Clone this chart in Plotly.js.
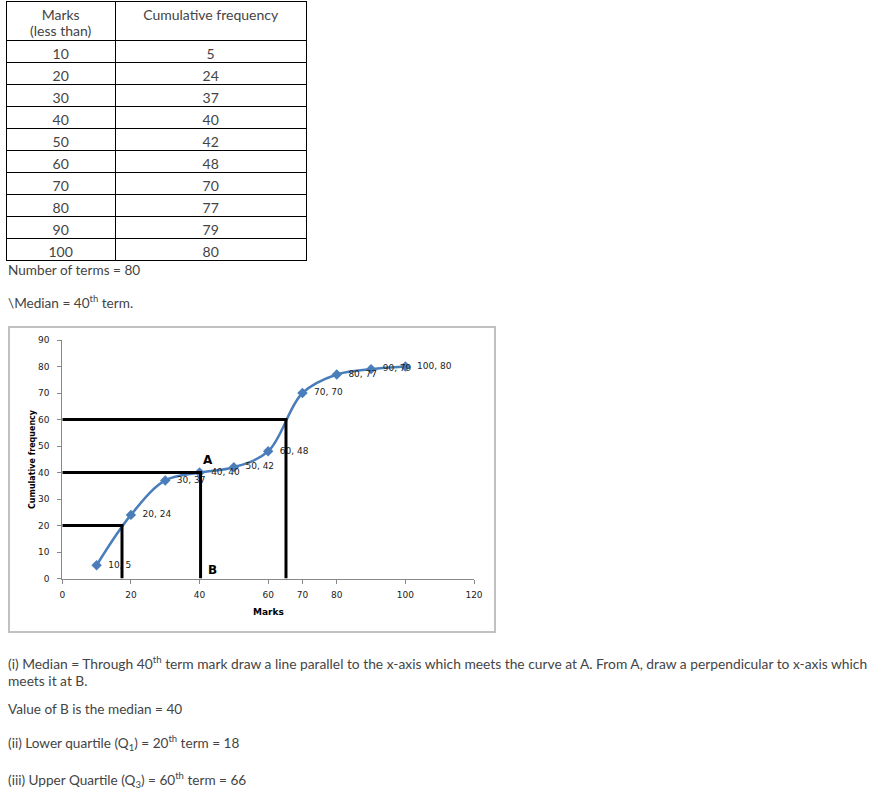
<!DOCTYPE html>
<html>
<head>
<meta charset="utf-8">
<script src="https://cdn.plot.ly/plotly-3.0.1.min.js"></script>
<style>
html,body{margin:0;padding:0;background:#fff;}
#page{width:873px;height:792px;}
</style>
</head>
<body>
<div id="page"></div>
<script>
// ---- data ----
const marks = [10, 20, 30, 40, 50, 60, 70, 80, 90, 100];
const cumFreq = [5, 24, 37, 40, 42, 48, 70, 77, 79, 80];
const tableHeader = ["Marks", "Cumulative frequency"];
const tableHeaderSub = "(less than)";
const guideCF = [20, 40, 60];          // 20th, 40th, 60th term
const guideMarks = [17.4, 40.3, 65.2];
const xTickVals = [0, 20, 40, 60, 70, 80, 100, 120];
const yTickVals = [0, 10, 20, 30, 40, 50, 60, 70, 80, 90];

// ---- helpers (pixel -> paper) ----
const W = 873, H = 792;
const px = v => v / W;
const py = v => 1 - v / H;

const pointLabels = marks.map((m, i) => m + ", " + cumFreq[i]);

// guide line path built from the guide arrays
const gx = [], gy = [];
guideCF.forEach((c, i) => {
  gx.push(0, guideMarks[i], guideMarks[i], null);
  gy.push(c, c, 0, null);
});

const tableFont = {family: "Lato", size: 14, color: "#444"};
const textFont = {family: "Lato", size: 13.6, color: "#444"};
const paraFont = {family: "Lato", size: 13.8, color: "#444"};
const chartFont = "DejaVu Sans";
const blue = "#4A7EBB";

const traces = [
  {
    type: "table",
    domain: {x: [px(6), px(306)], y: [py(263), py(1)]},
    columnwidth: [109, 190],
    header: {
      values: tableHeader,
      align: "center",
      height: 39,
      line: {color: "#000", width: 1},
      fill: {color: "#fff"},
      font: tableFont
    },
    cells: {
      values: [marks, cumFreq],
      align: "center",
      height: 22,
      line: {color: "#000", width: 1},
      fill: {color: "#fff"},
      font: tableFont
    }
  },
  {
    type: "scatter",
    x: marks,
    y: cumFreq,
    mode: "lines+markers",
    line: {shape: "spline", smoothing: 1, color: blue, width: 2.5},
    marker: {symbol: "diamond", size: 8, color: blue},
    cliponaxis: false,
    hoverinfo: "skip"
  },
  {
    // data labels (invisible wide markers push the labels off the points)
    type: "scatter",
    x: marks,
    y: cumFreq,
    mode: "markers+text",
    marker: {size: 17, color: "rgba(0,0,0,0)"},
    text: pointLabels,
    textposition: "middle right",
    textfont: {family: chartFont, size: 9, color: "#222"},
    cliponaxis: false,
    hoverinfo: "skip"
  },
  {
    type: "scatter",
    x: gx,
    y: gy,
    mode: "lines",
    line: {color: "#000", width: 3},
    connectgaps: false,
    cliponaxis: false,
    hoverinfo: "skip"
  }
];

const annotations = [
  {text: "Number of terms = 80", x: px(6), y: py(270)},
  {text: "\\Median = 40<sup>th</sup> term.", x: px(6), y: py(302)},
  {text: "(i) Median = Through 40<sup>th</sup> term mark draw a line parallel to the x-axis which meets the curve at A. From A, draw a perpendicular to x-axis which", x: px(6), y: py(662), font: paraFont},
  {text: "meets it at B.", x: px(6), y: py(680), font: paraFont},
  {text: "Value of B is the median = 40", x: px(6), y: py(709)},
  {text: "(ii) Lower quartile (Q<sub>1</sub>) = 20<sup>th</sup> term = 18", x: px(6), y: py(743)},
  {text: "(iii) Upper Quartile (Q<sub>3</sub>) = 60<sup>th</sup> term = 66", x: px(6), y: py(780)}
].map(a => Object.assign({
  xref: "paper", yref: "paper", xanchor: "left", yanchor: "middle",
  showarrow: false, font: textFont, align: "left"
}, a));

const centered = a => Object.assign({
  xref: "paper", yref: "paper", xanchor: "center", yanchor: "middle", showarrow: false
}, a);

annotations.push(
  centered({text: tableHeaderSub, x: px(60.5), y: py(30.5), font: tableFont}),
  centered({text: "<b>A</b>", x: px(208), y: py(460), font: {family: chartFont, size: 12, color: "#000"}}),
  centered({text: "<b>B</b>", x: px(212), y: py(570), font: {family: chartFont, size: 12, color: "#000"}}),
  centered({text: "<b>Cumulative frequency</b>", x: px(32), y: py(459), textangle: -90,
            font: {family: chartFont, size: 8, color: "#000"}}),
  centered({text: "<b>Marks</b>", x: px(268), y: py(612), font: {family: chartFont, size: 9, color: "#000"}})
);

const layout = {
  width: W, height: H,
  margin: {l: 0, r: 0, t: 0, b: 0, pad: 0},
  paper_bgcolor: "#fff",
  plot_bgcolor: "rgba(0,0,0,0)",
  showlegend: false,
  xaxis: {
    domain: [px(62.3), px(474)],
    range: [0, 120],
    tickvals: xTickVals,
    ticks: "outside", ticklen: 4, tickcolor: "#888",
    showline: true, linecolor: "#888", linewidth: 1,
    showgrid: false, zeroline: false,
    tickfont: {family: chartFont, size: 9, color: "#222"},
    ticklabelstandoff: 4,
    fixedrange: true
  },
  yaxis: {
    domain: [py(578.5), py(340)],
    range: [0, 90],
    tickvals: yTickVals,
    ticks: "outside", ticklen: 4, tickcolor: "#888",
    showline: true, linecolor: "#888", linewidth: 1,
    showgrid: false, zeroline: false,
    tickfont: {family: chartFont, size: 9, color: "#222"},
    ticklabelstandoff: 6,
    fixedrange: true
  },
  shapes: [
    {type: "rect", xref: "paper", yref: "paper",
     x0: px(9), x1: px(495), y0: py(632), y1: py(327),
     line: {color: "#c0c0c0", width: 2}, layer: "below"}
  ],
  annotations: annotations
};

Plotly.newPlot("page", traces, layout, {staticPlot: true, displayModeBar: false});
</script>
</body>
</html>
